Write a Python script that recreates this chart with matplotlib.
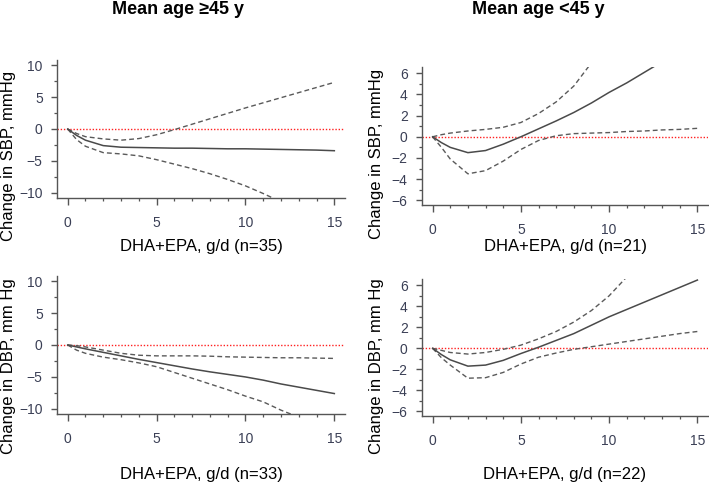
import numpy as np
import matplotlib
matplotlib.use('Agg')
import matplotlib.pyplot as plt
from matplotlib.ticker import MultipleLocator

nan = np.nan

dose = [0, 0.5, 1, 2, 3, 4, 5, 6, 7, 8, 9, 10, 11, 12, 13, 14, 15]

# SBP, mean age >=45 y
sbp_old_fit = [0, -1.0, -1.75, -2.6, -2.85, -2.9, -2.95, -3.0, -3.0, -3.05, -3.1, -3.1, -3.15, -3.2, -3.25, -3.3, -3.4]
sbp_old_upper = [0, -0.7, -1.2, -1.55, -1.75, -1.5, -0.9, -0.1, 0.75, 1.6, 2.45, 3.3, 4.1, 4.9, 5.7, 6.5, 7.3]
sbp_old_lower = [0, -1.65, -2.7, -3.7, -3.9, -4.2, -4.8, -5.5, -6.2, -7.0, -7.9, -8.9, -10.1, -11.4, nan, nan, nan]

# SBP, mean age <45 y
sbp_young_fit = [0, -0.55, -1.0, -1.5, -1.3, -0.7, 0.0, 0.75, 1.5, 2.3, 3.2, 4.2, 5.1, 6.1, 7.1, nan, nan]
sbp_young_upper = [0, 0.2, 0.35, 0.55, 0.7, 0.9, 1.35, 2.2, 3.3, 4.8, 7.0, nan, nan, nan, nan, nan, nan]
sbp_young_lower = [0, -1.0, -2.1, -3.5, -3.2, -2.3, -1.2, -0.35, 0.1, 0.3, 0.35, 0.4, 0.5, 0.55, 0.65, 0.7, 0.8]

# DBP, mean age >=45 y
dbp_old_fit = [0, -0.3, -0.6, -1.15, -1.7, -2.25, -2.75, -3.25, -3.75, -4.2, -4.6, -5.0, -5.5, -6.1, -6.6, -7.1, -7.6]
dbp_old_upper = [0, -0.1, -0.3, -0.8, -1.3, -1.6, -1.7, -1.7, -1.7, -1.75, -1.85, -1.9, -1.95, -2.0, -2.0, -2.05, -2.1]
dbp_old_lower = [0, -0.8, -1.3, -1.9, -2.3, -2.8, -3.4, -4.3, -5.2, -6.1, -7.0, -8.0, -8.9, -10.2, -11.3, nan, nan]

# DBP, mean age <45 y
dbp_young_fit = [0, -0.6, -1.1, -1.7, -1.6, -1.15, -0.5, 0.1, 0.75, 1.4, 2.2, 3.0, 3.7, 4.4, 5.1, 5.8, 6.5]
dbp_young_upper = [0, -0.2, -0.4, -0.55, -0.4, -0.1, 0.3, 0.9, 1.6, 2.5, 3.6, 5.0, 6.8, nan, nan, nan, nan]
dbp_young_lower = [0, -0.9, -1.6, -2.85, -2.8, -2.3, -1.5, -0.85, -0.45, -0.1, 0.15, 0.4, 0.65, 0.9, 1.15, 1.4, 1.6]

titles = ['Mean age \u226545 y', 'Mean age <45 y']
ylabels = ['Change in SBP, mmHg', 'Change in SBP, mmHg', 'Change in DBP, mm Hg', 'Change in DBP, mm Hg']
xlabels = ['DHA+EPA, g/d (n=35)', 'DHA+EPA, g/d (n=21)', 'DHA+EPA, g/d (n=33)', 'DHA+EPA, g/d (n=22)']

plt.rcParams['font.family'] = ['Liberation Sans', 'DejaVu Sans']

W, H = 709, 487
fig = plt.figure(figsize=(W / 100, H / 100), dpi=100)


def box(left, top, right, bottom):
    return [left / W, 1 - bottom / H, (right - left) / W, (bottom - top) / H]


panels = [
    (box(57, 60, 345, 198), (-10.8, 10.8), 5, 2.5, sbp_old_fit, sbp_old_upper, sbp_old_lower),
    (box(422, 67, 708, 205), (-6.45, 6.6), 2, 1, sbp_young_fit, sbp_young_upper, sbp_young_lower),
    (box(57, 276, 345, 414), (-10.8, 10.8), 5, 2.5, dbp_old_fit, dbp_old_upper, dbp_old_lower),
    (box(422, 279, 708, 416), (-6.45, 6.6), 2, 1, dbp_young_fit, dbp_young_upper, dbp_young_lower),
]

label_pos = [(9, 156), (377, 154), (9, 366), (377, 366)]
xlabel_y = [247, 247, 475, 475]

axis_col = '#555555'
tick_col = '#3a3f55'

for i, (pos, ylim, major, minor, fit, upper, lower) in enumerate(panels):
    ax = fig.add_axes(pos)
    ax.axhline(0, color='#ff2020', linestyle=(0, (1, 1.3)), linewidth=1.0, zorder=1)
    ax.plot(dose, fit, color='#4a4a4a', linewidth=1.1, zorder=3)
    ax.plot(dose, upper, color='#5a5a5a', linewidth=1.0, dashes=(3.5, 2.2), zorder=2)
    ax.plot(dose, lower, color='#5a5a5a', linewidth=1.0, dashes=(3.5, 2.2), zorder=2)
    ax.set_xlim(-0.6, 15.6)
    ax.set_ylim(*ylim)
    ax.set_xticks([0, 5, 10, 15])
    ax.xaxis.set_minor_locator(MultipleLocator(1))
    ax.yaxis.set_major_locator(MultipleLocator(major))
    ax.yaxis.set_minor_locator(MultipleLocator(minor))
    for s in ['top', 'right']:
        ax.spines[s].set_visible(False)
    for s in ['left', 'bottom']:
        ax.spines[s].set_color(axis_col)
        ax.spines[s].set_linewidth(1.0)
    ax.tick_params(axis='x', which='major', length=5, width=1, color=axis_col,
                   pad=8, labelsize=10, labelcolor=tick_col)
    ax.tick_params(axis='y', which='major', length=4.3, width=1, color=axis_col,
                   pad=6, labelsize=10, labelcolor=tick_col)
    ax.tick_params(which='minor', length=2.2, width=0.9, color=axis_col)
    ax.patch.set_visible(False)

    lx, ly = label_pos[i]
    fig.text(lx / W, 1 - ly / H, ylabels[i], rotation=90, ha='center', va='center', fontsize=12)
    fig.text((pos[0] + pos[2] / 2), 1 - xlabel_y[i] / H, xlabels[i], ha='center', va='center', fontsize=12)

fig.text(178 / W, 1 - 14 / H, titles[0], ha='center', va='baseline', fontsize=13, fontweight='bold')
fig.text(538 / W, 1 - 14 / H, titles[1], ha='center', va='baseline', fontsize=13, fontweight='bold')

fig.savefig('out.png', dpi=100)
